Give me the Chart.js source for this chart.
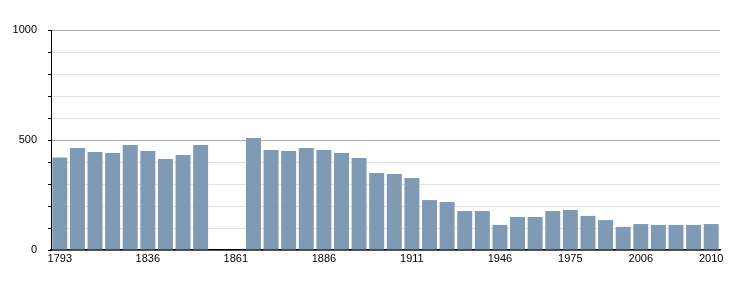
<!DOCTYPE html>
<html>
<head>
<meta charset="utf-8">
<script src="https://cdn.jsdelivr.net/npm/chart.js@4/dist/chart.umd.min.js"></script>
<style>
  body { margin: 0; background: #fff; }
  canvas { display: block; }
</style>
</head>
<body>
<canvas id="graph" width="750" height="300"></canvas>
<script>
const years = [
  "1793", "1800", "1806", "1821", "1831", "1836", "1841", "1846", "1851", "1856",
  "1861", "1866", "1872", "1876", "1881", "1886", "1891", "1896", "1901", "1906",
  "1911", "1921", "1926", "1931", "1936", "1946", "1954", "1962", "1968", "1975",
  "1982", "1990", "1999", "2006", "2007", "2008", "2009", "2010"
];
const population = [
  420, 464, 445, 441, 477, 450, 414, 432, 477, null,
  null, 509, 455, 450, 464, 455, 441, 418, 350, 345,
  327, 227, 218, 177, 177, 114, 150, 150, 177, 182,
  155, 136, 105, 118, 114, 114, 114, 118
];
const shownYears = ["1793", "1836", "1861", "1886", "1911", "1946", "1975", "2006", "2010"];
const yLabels = [0, 500, 1000];

const graph = document.getElementById("graph").getContext("2d");

let myChart = new Chart(graph, {
  type: "bar",
  data: {
    labels: years,
    datasets: [
      {
        label: "Population",
        data: population,
        backgroundColor: "#7f9ab4",
        barPercentage: 0.85,
        categoryPercentage: 1.0,
      },
    ],
  },
  options: {
    responsive: false,
    animation: false,
    plugins: {
      legend: { display: false },
      tooltip: { enabled: false },
    },
    layout: {
      padding: { top: 30, right: 30, left: 0, bottom: 0 },
    },
    scales: {
      x: {
        grid: { display: false, drawTicks: false },
        border: { color: "#000", width: 1.5 },
        ticks: {
          autoSkip: false,
          maxRotation: 0,
          padding: 2,
          color: "#000",
          font: { family: "Liberation Sans", size: 11 },
          callback: function (value, index) {
            const y = years[index];
            return shownYears.includes(y) ? y : "";
          },
        },
        afterFit: function (scale) { scale.height = 50; },
      },
      y: {
        min: 0,
        max: 1000,
        border: { color: "#000", width: 1 },
        grid: {
          color: (ctx) => (ctx.tick && ctx.tick.value % 500 === 0 ? "#aaaaaa" : "#e2e2e2"),
          tickColor: "#000",
          tickLength: 3,
        },
        ticks: {
          stepSize: 100,
          padding: 11,
          color: "#000",
          font: { family: "Liberation Sans", size: 11 },
          callback: (value) => (yLabels.includes(value) ? value : ""),
        },
        afterFit: function (scale) { scale.width = 51; },
      },
    },
  },
});
</script>
</body>
</html>
